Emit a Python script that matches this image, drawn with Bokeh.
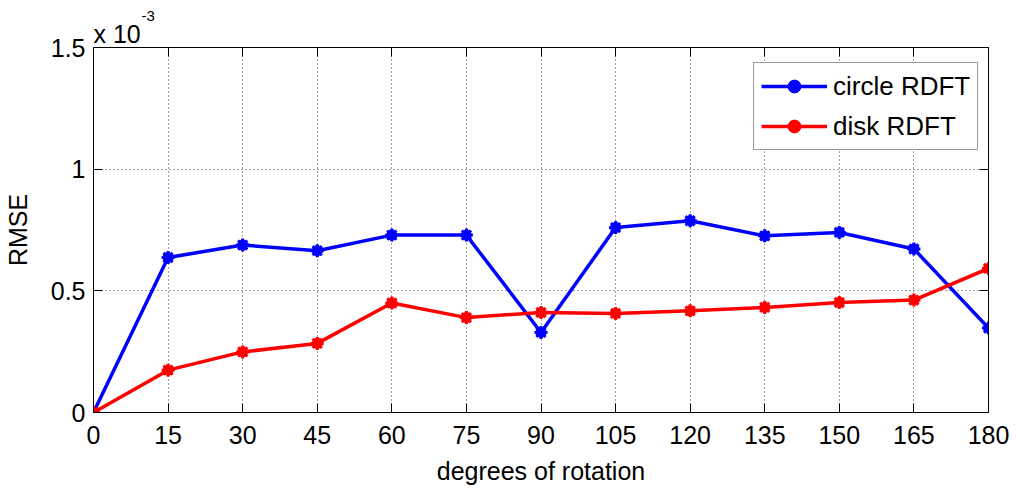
from bokeh.plotting import figure
from bokeh.models import (Range1d, FixedTicker, LinearAxis, CustomJSTickFormatter,
                          Title, Legend, LegendItem)
from bokeh.embed import file_html
from bokeh.resources import INLINE

# ---- data (RMSE in units of 1e-3) ----
degrees = [0, 15, 30, 45, 60, 75, 90, 105, 120, 135, 150, 165, 180]
circle_rdft = [0.0, 0.637, 0.688, 0.665, 0.729, 0.729, 0.329, 0.760, 0.788, 0.726, 0.740, 0.672, 0.347]
disk_rdft = [0.0, 0.174, 0.249, 0.284, 0.450, 0.390, 0.411, 0.407, 0.418, 0.432, 0.452, 0.462, 0.592]
x_ticks = [0, 15, 30, 45, 60, 75, 90, 105, 120, 135, 150, 165, 180]
y_ticks = [0, 0.5, 1, 1.5]
series_names = ["circle RDFT", "disk RDFT"]
x_label = "degrees of rotation"
y_label = "RMSE"
exp_base = "x 10"
exp_power = "-3"

FONT = "Liberation Sans"
FS = "25px"

p = figure(width=1016, height=490, output_backend="svg", toolbar_location=None,
           x_range=Range1d(0, 180), y_range=Range1d(0, 1.5),
           min_border_left=92, min_border_right=28, min_border_top=47, min_border_bottom=78)
p.background_fill_color = "white"
p.border_fill_color = "white"
p.outline_line_color = "black"
p.outline_line_width = 1

fmt = CustomJSTickFormatter(code="return tick.toString();")
blank = CustomJSTickFormatter(code="return '';")

for ax, ticks in ((p.xaxis[0], x_ticks), (p.yaxis[0], y_ticks)):
    ax.ticker = FixedTicker(ticks=ticks)
    ax.formatter = fmt
    ax.major_tick_in = 9
    ax.major_tick_out = 0
    ax.minor_tick_line_color = None
    ax.major_label_text_font = FONT
    ax.major_label_text_font_size = FS
    ax.major_label_text_color = "black"
    ax.axis_label_text_font = FONT
    ax.axis_label_text_font_size = FS
    ax.axis_label_text_font_style = "normal"
    ax.axis_label_text_color = "black"
    ax.axis_line_color = "black"
    ax.major_tick_line_color = "black"

p.xaxis[0].axis_label = x_label
p.yaxis[0].axis_label = y_label
p.xaxis[0].major_label_standoff = 13
p.xaxis[0].axis_label_standoff = 10
p.yaxis[0].major_label_standoff = 8
p.yaxis[0].axis_label_standoff = 16

# mirrored tick axes (top / right), no labels
top = LinearAxis(ticker=FixedTicker(ticks=x_ticks), formatter=blank,
                 major_tick_in=9, major_tick_out=0, minor_tick_line_color=None,
                 major_label_text_font_size="1px", major_label_standoff=0,
                 axis_line_color="black")
right = LinearAxis(ticker=FixedTicker(ticks=y_ticks), formatter=blank,
                   major_tick_in=9, major_tick_out=0, minor_tick_line_color=None,
                   major_label_text_font_size="1px", major_label_standoff=0,
                   axis_line_color="black")
p.add_layout(top, "above")
p.add_layout(right, "right")

# exponent "x 10^-3" as two stacked titles
t1 = Title(text=exp_base, align="left", offset=0, standoff=0,
           text_font=FONT, text_font_size=FS, text_font_style="normal", text_color="black")
t2 = Title(text=exp_power, align="left", offset=48, standoff=-6,
           text_font=FONT, text_font_size="15px", text_font_style="normal", text_color="black")
p.add_layout(t1, "above")
p.add_layout(t2, "above")

for g, ticks in ((p.xgrid[0], x_ticks), (p.ygrid[0], y_ticks)):
    g.ticker = FixedTicker(ticks=ticks)
    g.grid_line_color = "#444444"
    g.grid_line_dash = "1 3"
    g.grid_line_width = 1

colors = ["#0000ff", "#ff0000"]
items = []
for name, ys, c in zip(series_names, [circle_rdft, disk_rdft], colors):
    l = p.line(degrees, ys, line_color=c, line_width=3.5)
    s1 = p.scatter(degrees, ys, marker="circle", size=10, fill_color=c, line_color=c)
    s2 = p.scatter(degrees, ys, marker="asterisk", size=13, line_color=c, line_width=3)
    items.append(LegendItem(label=name, renderers=[l, s1, s2]))

legend = Legend(items=items, location=(660, 262), orientation="vertical",
                label_text_font=FONT, label_text_font_size="26px",
                label_text_color="black",
                glyph_width=66, glyph_height=32, spacing=8, padding=7, margin=0,
                label_standoff=6, border_line_color="#333333", border_line_width=1,
                background_fill_color="white", background_fill_alpha=1)
p.add_layout(legend)

open("out.html", "w").write(file_html(p, INLINE))
